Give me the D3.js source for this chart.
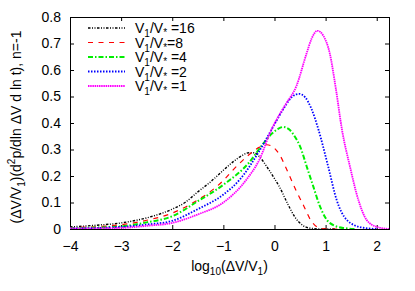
<!DOCTYPE html>
<html><head><meta charset="utf-8">
<script src="https://cdn.jsdelivr.net/npm/d3@7"></script>
<style>body{margin:0;background:#fff}svg{display:block}text{font-family:"Liberation Sans",Arial,sans-serif;}</style>
</head><body><svg id="c" width="415" height="291"></svg>
<script>
// Data: x = log10(ΔV/V1), y = plotted value
const ratios = ["16", "8", "4", "2", "1"];
const colors = ["#000000", "#ff0000", "#00ee00", "#0000ff", "#ff00ff"];
const x16 = [-4, -3.5, -3, -2.5, -2, -1.75, -1.5, -1.25, -1, -0.8, -0.62, -0.5, -0.4, -0.3, -0.15, 0, 0.1, 0.25, 0.4, 0.55, 0.7, 0.9, 1.2];
const y16 = [0.008, 0.014, 0.023, 0.042, 0.075, 0.1, 0.14, 0.178, 0.222, 0.255, 0.279, 0.288, 0.288, 0.274, 0.235, 0.19, 0.158, 0.098, 0.045, 0.014, 0.003, 0.0, 0.0];
const x8 = [-4, -3, -2.5, -2, -1.5, -1.25, -1, -0.8, -0.5, -0.3, -0.15, -0.02, 0.1, 0.27, 0.43, 0.56, 0.72, 0.86, 1.0, 1.3];
const y8 = [0.005, 0.016, 0.033, 0.06, 0.11, 0.142, 0.183, 0.225, 0.28, 0.308, 0.318, 0.308, 0.28, 0.211, 0.142, 0.092, 0.03, 0.005, 0.0, 0.0];
const x4 = [-4, -3, -2.5, -2, -1.5, -1, -0.5, -0.22, -0.05, 0.07, 0.17, 0.28, 0.4, 0.5, 0.63, 0.76, 0.89, 1.08, 1.34, 1.6];
const y4 = [0.003, 0.01, 0.025, 0.048, 0.105, 0.167, 0.25, 0.322, 0.36, 0.378, 0.385, 0.377, 0.348, 0.312, 0.236, 0.16, 0.085, 0.023, 0.004, 0.0];
const x2 = [-4, -3, -2.5, -2, -1.5, -1, -0.68, -0.32, 0, 0.18, 0.34, 0.48, 0.6, 0.72, 0.86, 1.05, 1.215, 1.41, 1.7, 2.0];
const y2 = [0.002, 0.008, 0.017, 0.031, 0.075, 0.13, 0.186, 0.287, 0.395, 0.455, 0.498, 0.51, 0.497, 0.455, 0.375, 0.236, 0.11, 0.035, 0.006, 0.0];
const x1 = [-4, -3, -2.5, -2, -1.5, -1, -0.55, -0.3, -0.06, 0.2, 0.43, 0.63, 0.73, 0.84, 0.96, 1.08, 1.2, 1.32, 1.476, 1.64, 1.8, 2.0, 2.25];
const y1 = [0.002, 0.004, 0.012, 0.023, 0.055, 0.1, 0.186, 0.26, 0.375, 0.465, 0.54, 0.664, 0.72, 0.748, 0.728, 0.664, 0.53, 0.375, 0.236, 0.11, 0.035, 0.008, 0.0];
const seriesX = [x16, x8, x4, x2, x1];
const seriesY = [y16, y8, y4, y2, y1];
const xTicks = [-4, -3, -2, -1, 0, 1, 2];
const yTicks = [0, 0.1, 0.2, 0.3, 0.4, 0.5, 0.6, 0.7, 0.8];
const dashes = ["2.5,1.5,1,1.5,1,1.5", "5,5.5", "5,2,1.5,2", "1.5,1.5", "1.5,0.7"];
const widths = [1.4, 1.2, 2, 1.8, 1.8];

const svg = d3.select("#c");
const L = 70, R = 389, T = 17, B = 229;
const x = d3.scaleLinear().domain([-4, 2.24]).range([L, R]);
const y = d3.scaleLinear().domain([0, 0.8]).range([B, T]);

svg.append("defs").append("clipPath").attr("id", "clip")
  .append("rect").attr("x", L).attr("y", T).attr("width", R - L).attr("height", B - T);

const fs = "14px";
const ax = svg.append("g").attr("transform", `translate(0,${B})`)
  .call(d3.axisBottom(x).tickValues(xTicks).tickSize(-4).tickPadding(12).tickFormat(d3.format("d")));
const axTop = svg.append("g").attr("transform", `translate(0,${T})`)
  .call(d3.axisTop(x).tickValues(xTicks).tickSize(-4).tickFormat(""));
const ay = svg.append("g").attr("transform", `translate(${L},0)`)
  .call(d3.axisLeft(y).tickValues(yTicks).tickSize(-4).tickPadding(9).tickFormat(d => d === 0 ? "0" : d3.format(".1f")(d)));
const ayR = svg.append("g").attr("transform", `translate(${R},0)`)
  .call(d3.axisRight(y).tickValues(yTicks).tickSize(-4).tickFormat(""));
[ax, axTop, ay, ayR].forEach(g => {
  g.select(".domain").remove();
  g.selectAll("line").attr("stroke", "#000");
  g.selectAll("text").attr("font-size", fs).attr("fill", "#000").attr("font-family", "Liberation Sans, Arial, sans-serif");
});
svg.append("rect").attr("x", L).attr("y", T).attr("width", R - L).attr("height", B - T)
  .attr("fill", "none").attr("stroke", "#000").attr("stroke-width", 1).attr("shape-rendering", "crispEdges");

const line = d3.line().x(d => x(d[0])).y(d => y(d[1])).curve(d3.curveMonotoneX);
const g = svg.append("g").attr("clip-path", "url(#clip)");
seriesX.forEach((xs, i) => {
  const pts = xs.map((v, j) => [v, seriesY[i][j]]);
  g.append("path").datum(pts).attr("d", line).attr("fill", "none")
    .attr("stroke", colors[i]).attr("stroke-width", widths[i]).attr("stroke-dasharray", dashes[i]);
});

const lg = svg.append("g");
ratios.forEach((r, i) => {
  const yy = 28 + i * 14.5;
  lg.append("line").attr("x1", 88).attr("x2", 125).attr("y1", yy).attr("y2", yy)
    .attr("stroke", colors[i]).attr("stroke-width", widths[i]).attr("stroke-dasharray", dashes[i]);
  const t = lg.append("text").attr("x", 135).attr("y", yy + 5).attr("font-size", "14px").attr("fill", "#000");
  t.append("tspan").text("V");
  t.append("tspan").attr("font-size", "10px").attr("dy", 4).text("1");
  t.append("tspan").attr("dy", -4).text("/V");
  t.append("tspan").attr("font-size", "10px").attr("dy", 3).text("*");
  t.append("tspan").attr("dy", -3).text((r === "8" ? "=" : " =") + r);
});

const xl = svg.append("text").attr("x", (L + R) / 2).attr("y", 271).attr("text-anchor", "middle").attr("font-size", "14px");
xl.append("tspan").text("log");
xl.append("tspan").attr("font-size", "10px").attr("dy", 4).text("10");
xl.append("tspan").attr("dy", -4).text("(ΔV/V");
xl.append("tspan").attr("font-size", "10px").attr("dy", 4).text("1");
xl.append("tspan").attr("dy", -4).text(")");

const yl = svg.append("text").attr("transform", "translate(21,127) rotate(-90)").attr("text-anchor", "middle").attr("font-size", "14px");
yl.append("tspan").text("(ΔV/V");
yl.append("tspan").attr("font-size", "10px").attr("dy", 4).text("1");
yl.append("tspan").attr("dy", -4).text(")(d");
yl.append("tspan").attr("font-size", "10px").attr("dy", -6).text("2");
yl.append("tspan").attr("dy", 6).text("p/dln ΔV d ln t), n=-1");
</script></body></html>
